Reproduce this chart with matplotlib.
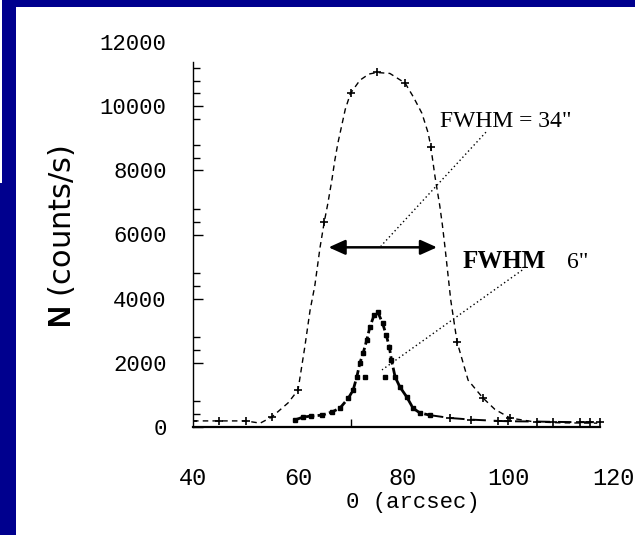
import matplotlib
matplotlib.use("Agg")
import matplotlib.pyplot as plt
from matplotlib.patches import Rectangle, FancyArrowPatch

plt.rcParams['mathtext.fontset'] = 'custom'
plt.rcParams['mathtext.rm'] = 'Liberation Sans'
plt.rcParams['mathtext.bf'] = 'Liberation Sans:bold'

# Broad beam profile (FWHM = 34")
wide_x = [40, 45, 50, 52.8, 55, 58.1, 60, 61.3, 62.3, 63.2, 64.2, 65, 65.7, 66.5,
          67, 67.6, 68.4, 69, 70, 71.8, 73.5, 75, 77.5, 80.4, 82, 83.6, 84.8, 85.3,
          86.1, 87, 87.5, 88, 88.4, 89.1, 90.3, 92.4, 95.2, 97.5, 100.4, 105, 110, 117]
wide_n = [190, 190, 190, 120, 310, 750, 1150, 2500, 3640, 4400, 5600, 6390, 6980, 7750,
          8300, 8850, 9450, 9900, 10400, 10810, 11000, 11050, 11020, 10720, 10280, 9780, 9160, 8730,
          7800, 6900, 6300, 5600, 5000, 3950, 2650, 1460, 910, 550, 280, 160, 130, 120]
wide_mark_x = [40, 45, 50, 55, 60, 65, 70, 75, 80.4, 85.3, 90.3, 95.2, 100.4]

# Narrow beam profile (FWHM 6")
narrow_x = [59.4, 61, 62.5, 64.6, 66.5, 68, 69.6, 70.5, 71.2, 71.8, 72.4, 73.1, 73.7,
            74.5, 75.2, 76.1, 76.8, 77.4, 77.8, 78.5, 79.4, 80.7, 81.9, 83.2, 85.1,
            89, 93, 98, 100, 105.5, 108.6, 113.7, 115.6, 117.5]
narrow_n = [220, 310, 340, 370, 470, 590, 900, 1150, 1560, 2000, 2300, 2710, 3120,
            3490, 3580, 3240, 2870, 2490, 2090, 1560, 1250, 940, 590, 440, 370,
            280, 230, 190, 180, 170, 160, 150, 150, 150]
narrow_core_end = 85.1
extra_x = [72.8, 76.6]
extra_n = [1560, 1560]

# Half-maximum width of the broad profile
fwhm_left, fwhm_right, half_max = 65.3, 87.0, 5600

x_ticks = [40, 60, 80, 100, 120]
x_marks = [70, 100]
y_ticks = [0, 2000, 4000, 6000, 8000, 10000, 12000]
y_marks = [400, 800, 2400, 2800, 4400, 4800, 6400, 6800, 8400, 8800, 9600,
           10400, 10800, 11200]

W, H = 635, 535
fig = plt.figure(figsize=(W / 100, H / 100), dpi=100, facecolor='white')
navy = '#00008e'


def band(x0, y0, x1, y1):
    fig.patches.append(Rectangle((x0 / W, 1 - y1 / H), (x1 - x0) / W, (y1 - y0) / H,
                                 transform=fig.transFigure, facecolor=navy,
                                 edgecolor='none', zorder=0))


band(2, 0, W, 7)
band(2, 0, 16, H)
band(0, 183, 2, H)

ax = fig.add_axes([193 / W, (H - 427) / H, 420 / W, 385 / H])
ax.set_facecolor('none')
ax.set_xlim(40, 120)
ax.set_ylim(0, 12000)
for s in ('top', 'right'):
    ax.spines[s].set_visible(False)
ax.spines['left'].set_bounds(0, 11370)
ax.spines['bottom'].set_bounds(40, 117.5)
ax.spines['bottom'].set_linewidth(1.6)
ax.spines['left'].set_linewidth(1.0)

ax.set_xticks(x_ticks)
ax.set_xticks(x_marks, minor=True)
ax.set_yticks(y_ticks)
ax.set_yticks(y_marks, minor=True)
ax.tick_params(axis='x', which='major', length=0, pad=29, labelsize=17)
ax.tick_params(axis='x', which='minor', direction='in', length=6, width=1)
ax.tick_params(axis='y', which='major', direction='in', length=7, width=1,
               pad=19, labelsize=16)
ax.tick_params(axis='y', which='minor', direction='in', length=5, width=1)
ax.yaxis.get_major_ticks()[-1].tick1line.set_visible(False)
for lab in ax.get_xticklabels() + ax.get_yticklabels():
    lab.set_fontfamily('Liberation Mono')

# Broad profile
ax.plot(wide_x, wide_n, color='black', lw=1.0, dashes=(4, 3), zorder=3)
mark_idx = [wide_x.index(v) for v in wide_mark_x]
ax.plot([wide_x[i] for i in mark_idx], [wide_n[i] for i in mark_idx],
        ls='none', marker='+', ms=6, mew=1.2, color='black', zorder=4)

# Narrow profile: dense core and long-dashed tail
core = [i for i, v in enumerate(narrow_x) if v <= narrow_core_end]
tail = [i for i, v in enumerate(narrow_x) if v >= narrow_core_end]
ax.plot([narrow_x[i] for i in core], [narrow_n[i] for i in core], color='black',
        lw=2.0, dashes=(3, 1.2), marker='s', ms=3, zorder=3)
ax.plot([narrow_x[i] for i in tail], [narrow_n[i] for i in tail], color='black',
        lw=1.4, dashes=(7, 4), zorder=3)
ax.plot([narrow_x[i] for i in tail[1:]], [narrow_n[i] for i in tail[1:]], ls='none',
        marker='+', ms=6, mew=1.2, color='black', zorder=4)
ax.plot(extra_x, extra_n, ls='none', marker='s', ms=3.5, color='black', zorder=4)

# Full-width arrow
ax.add_patch(FancyArrowPatch((fwhm_left, half_max), (fwhm_right, half_max),
                             arrowstyle='<|-|>,head_length=10,head_width=4.5',
                             lw=1.8, color='black', zorder=5))

# Annotations with dotted leader lines
ax.plot([95.8, 75.8], [9190, 5640], color='black', lw=1.0, ls=(0, (1, 2)), zorder=2)
ax.plot([102.7, 76.0], [4890, 1780], color='black', lw=1.0, ls=(0, (1, 2)), zorder=2)
ax.text(87.05, 9345, 'FWHM = 34"', family='Liberation Serif', fontsize=17,
        va='baseline', ha='left')
ax.text(91.4, 4950, 'FWHM', family='Liberation Serif', fontsize=18,
        fontweight='bold', va='baseline', ha='left')
ax.text(111.2, 4950, '6"', family='Liberation Serif', fontsize=17,
        va='baseline', ha='left')

ax.set_xlabel('0 (arcsec)', family='Liberation Mono', fontsize=16)
ax.xaxis.set_label_coords(0.524, -0.197)
ax.xaxis.label.set_va('center')
ax.set_ylabel(r'$\mathbf{N}$ (counts/s)', fontsize=22)
ax.yaxis.set_label_coords(-0.312, 0.4935)
ax.yaxis.label.set_va('center')

fig.savefig('out.png', dpi=100, facecolor='white')
